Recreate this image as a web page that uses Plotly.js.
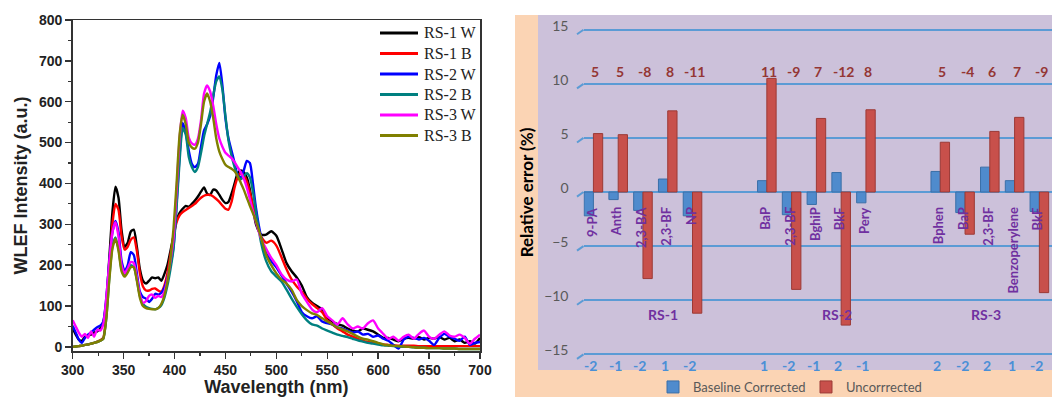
<!DOCTYPE html>
<html>
<head>
<meta charset="utf-8">
<script src="https://cdn.plot.ly/plotly-3.0.1.min.js"></script>
<style>html,body{margin:0;padding:0;background:#fff;overflow:hidden;}#chart{width:1052px;height:397px;}</style>
</head>
<body>
<div id="chart"></div>
<script>
// ---------- Left panel: WLEF spectra ----------
const wavelength = [300,303,306,309,312,315,318,321,324,327,330,333,336,339,342,345,348,351,354,357,360,363,366,369,372,375,378,381,384,387,390,393,396,399,402,405,408,411,414,417,420,423,426,429,432,435,438,441,444,447,450,453,456,459,462,465,468,471,474,477,480,
  485,490,495,500,505,510,515,520,525,530,535,540,545,550,555,560,565,570,575,580,585,590,595,600,605,610,615,620,625,630,635,640,645,650,655,660,665,670,675,680,685,690,695,700];

const rs1W = [45,30,18,15,25,28,30,35,38,45,60,110,220,330,392,365,285,245,255,282,287,245,190,162,155,162,170,168,170,162,178,200,235,272,310,328,338,345,343,350,358,368,380,390,375,372,385,383,372,360,352,355,375,400,425,432,428,415,385,340,300,
  275,275,283,272,240,205,185,170,150,122,108,100,92,72,62,56,52,45,40,38,45,42,38,30,22,22,18,14,20,22,20,24,18,22,20,24,18,22,14,18,10,14,8,22];
const rs1B = [0,1,2,3,5,6,8,10,13,16,22,80,190,300,350,335,270,238,245,262,268,235,180,148,138,138,142,143,138,135,150,180,225,270,305,322,330,335,340,345,350,358,365,370,372,372,368,362,355,346,338,336,355,390,415,425,420,405,378,345,315,
  270,255,260,248,220,190,165,148,135,118,105,95,85,65,55,45,38,30,25,20,15,12,10,8,6,5,4,3,3,3,3,2,2,2,2,2,2,2,2,2,2,2,2,2];
const rs2W = [52,35,18,10,22,30,35,42,48,52,62,120,210,280,308,280,210,185,200,232,225,180,135,122,118,110,118,130,128,132,145,168,200,245,350,470,548,525,480,448,440,448,490,530,545,565,610,665,695,640,560,510,480,450,420,415,432,455,450,400,340,
  270,230,210,195,175,155,135,112,85,75,70,75,62,58,55,48,45,40,35,38,30,32,25,28,20,15,5,-4,18,25,22,18,22,15,5,22,32,25,20,15,25,5,10,12];
const rs2B = [0,1,2,3,5,6,8,10,12,15,20,70,170,245,268,240,190,178,188,200,196,165,125,105,98,95,93,92,95,102,120,150,190,240,340,455,535,520,465,440,428,440,475,515,545,575,615,650,662,630,565,505,468,440,418,410,418,425,415,380,330,
  255,210,185,172,160,140,118,98,80,65,55,52,45,40,35,30,27,24,20,16,13,10,8,6,4,3,2,1,0,0,-1,-2,-2,-3,-3,-3,-4,-4,-4,-5,-5,-5,-5,-5];
const rs3W = [65,50,35,25,32,22,38,25,42,40,55,120,210,280,305,270,200,180,192,208,205,170,128,108,112,125,128,120,125,122,135,165,210,265,380,510,578,560,512,498,495,510,555,620,640,625,590,545,510,490,475,468,462,452,440,428,412,390,362,332,305,
  265,240,218,200,178,165,160,165,130,110,92,85,95,75,65,55,70,55,45,50,45,58,65,45,32,20,25,15,25,30,20,32,40,25,20,30,38,28,25,30,22,8,20,30];
const rs3B = [0,1,2,3,5,6,8,10,12,15,20,70,165,240,265,235,185,172,182,195,195,162,120,100,95,93,92,92,95,105,125,160,215,290,400,520,568,545,500,488,485,500,545,600,620,600,560,510,478,460,446,440,436,430,418,402,385,365,345,327,308,
  268,225,200,180,165,155,140,115,100,90,82,78,70,62,55,48,43,38,32,25,20,18,14,10,6,4,3,2,1,0,-1,-2,-2,-3,-3,-3,-4,-4,-4,-5,-5,-5,-5,-5];

const spectraNames = ['RS-1 W','RS-1 B','RS-2 W','RS-2 B','RS-3 W','RS-3 B'];
const spectraData = [rs1W, rs1B, rs2W, rs2B, rs3W, rs3B];
const spectraColors = ['#000000','#FF0000','#0000FF','#008080','#FF00FF','#808000'];

// ---------- Right panel: relative error ----------
const samples = ['RS-1','RS-2','RS-3'];
const compounds = ['9-PA','Anth','2,3-BA','2,3-BF','NP',
                   'BaP','2,3-BF','BghiP','BkF','Pery',
                   'Bphen','BaP','2,3-BF','Benzoperylene','BkF'];
const baselineCorrected = [-2.2,-0.7,-1.7,1.2,-2.2, 1.05,-2.1,-1.15,1.8,-1.0, 1.9,-1.9,2.3,1.05,-1.8];
const uncorrected = [5.4,5.3,-8.0,7.5,-11.2, 10.5,-9.0,6.8,-12.3,7.6, 4.6,-3.9,5.6,6.9,-9.3];
const baselineLabels = ['-2','-1','-2','1','-2', '1','-2','-1','2','-1', '2','-2','2','1','-2'];
const uncorrectedLabels = ['5','5','-8','8','-11', '11','-9','7','-12','8', '5','-4','6','7','-9'];
const errorTicks = [-15,-10,-5,0,5,10,15];

// slot position of each compound: 5 per sample, 2 empty slots between samples
const slots = compounds.map((c,i)=> Math.floor(i/5)*7 + (i%5));

const W = 1052, H = 397;
const px = v => v / W;
const py = v => 1 - v / H;

const traces = [];
spectraNames.forEach((n,i)=>{
  traces.push({
    type:'scatter', mode:'lines', name:n, x:wavelength, y:spectraData[i],
    line:{color:spectraColors[i], width:2.4, shape:'spline', smoothing:0.6},
    xaxis:'x', yaxis:'y', showlegend:false
  });
});
traces.push({
  type:'bar', name:'Baseline Corrrected', x:slots, y:baselineCorrected,
  marker:{color:'#4F8BCD', line:{color:'#3A6FA8', width:1}},
  xaxis:'x2', yaxis:'y2', legend:'legend2', showlegend:true
});
traces.push({
  type:'bar', name:'Uncorrrected', x:slots, y:uncorrected,
  marker:{color:'#C8504B', line:{color:'#9C3A36', width:1}},
  xaxis:'x2', yaxis:'y2', legend:'legend2', showlegend:true
});

const annotations = [];
const shapes = [
  {type:'rect', xref:'paper', yref:'paper', x0:px(515), x1:1, y0:0, y1:py(15), fillcolor:'#FBD4B4', line:{width:0}, layer:'below'},
  {type:'rect', xref:'paper', yref:'paper', x0:px(538), x1:1, y0:py(370), y1:py(15), fillcolor:'#CCC1DA', line:{width:0}, layer:'below'}
];

// legend of the spectra panel (Origin style: long line samples, tight rows)
spectraNames.forEach((n,i)=>{
  const yc = py(33 + i*20.5);
  shapes.push({type:'line', xref:'paper', yref:'paper', x0:px(380), x1:px(418), y0:yc, y1:yc,
    line:{color:spectraColors[i], width:2.8}});
  annotations.push({xref:'paper', yref:'paper', x:px(422), y:yc, text:n, xanchor:'left', yanchor:'middle',
    showarrow:false, font:{family:'"Liberation Serif", "Times New Roman", serif', size:16, color:'#222'}});
});

const calibri = 'Lato, "Open Sans", sans-serif';
compounds.forEach((c,i)=>{
  annotations.push({xref:'x2', yref:'y2', x:slots[i]-0.06, y:-1.2, text:c, textangle:-90,
    xanchor:'center', yanchor:'top', showarrow:false,
    font:{family:calibri, size:13, color:'#7030A0', weight:'bold'}});
  annotations.push({xref:'x2', yref:'y2', x:slots[i]+0.08, y:11.18, text:uncorrectedLabels[i],
    xanchor:'center', yanchor:'middle', showarrow:false,
    font:{family:calibri, size:14, color:'#943634', weight:'bold'}});
  annotations.push({xref:'x2', yref:'y2', x:slots[i]-0.12, y:-15.99, text:baselineLabels[i],
    xanchor:'center', yanchor:'middle', showarrow:false,
    font:{family:calibri, size:14, color:'#4A8FD6', weight:'bold'}});
});
const sampleLabelX = [2.8, 9.85, 15.85];
samples.forEach((s,i)=>{
  annotations.push({xref:'x2', yref:'y2', x:sampleLabelX[i], y:-11.28, text:s,
    xanchor:'center', yanchor:'middle', showarrow:false,
    font:{family:calibri, size:14, color:'#7030A0', weight:'bold'}});
});
errorTicks.forEach(v=>{
  shapes.push({type:'line', xref:'paper', yref:'y2', x0:px(577), x1:px(583.5), y0:v-0.42, y1:v,
    line:{color:'#5B9BD5', width:2}, layer:'below'});
});

const arialB = {family:'"Liberation Sans", Arial, sans-serif', size:14, color:'#222', weight:'bold'};

const layout = {
  width:W, height:H,
  margin:{l:0,r:0,t:0,b:0,pad:0,autoexpand:false},
  paper_bgcolor:'#ffffff', plot_bgcolor:'rgba(0,0,0,0)',
  barmode:'group', bargap:0.25, bargroupgap:0,
  showlegend:true,
  xaxis:{domain:[px(72.7), px(480)], range:[300,700], anchor:'y',
    tickvals:[300,350,400,450,500,550,600,650,700], ticks:'outside', ticklen:6, tickwidth:1.5, tickcolor:'#333',
    minor:{dtick:25, tick0:300, ticks:'outside', ticklen:3, tickwidth:1.2, tickcolor:'#333'},
    showline:true, mirror:true, linecolor:'#333', linewidth:1.5, showgrid:false, zeroline:false,
    tickfont:arialB, automargin:false,
    title:{text:'Wavelength (nm)', font:{family:'"Liberation Sans", Arial, sans-serif', size:18, color:'#222', weight:'bold'}}},
  yaxis:{domain:[py(351), py(20)], range:[-10,800], anchor:'x',
    tickvals:[0,100,200,300,400,500,600,700,800], ticks:'outside', ticklen:6, tickwidth:1.5, tickcolor:'#333',
    minor:{dtick:50, tick0:0, ticks:'outside', ticklen:3, tickwidth:1.2, tickcolor:'#333'},
    showline:true, mirror:true, linecolor:'#333', linewidth:1.5, showgrid:false, zeroline:false,
    tickfont:arialB, automargin:false,
    title:{text:'WLEF Intensity (a.u.)', font:{family:'"Liberation Sans", Arial, sans-serif', size:18, color:'#222', weight:'bold'}, standoff:6}},
  xaxis2:{domain:[px(583.5), 1], range:[-0.40, 18.51], anchor:'y2',
    showticklabels:false, ticks:'', showgrid:false, zeroline:false, showline:false, automargin:false},
  yaxis2:{domain:[py(370), py(15)], range:[-16.45, 16.36], anchor:'x2',
    tickvals:errorTicks, ticks:'', showgrid:true, gridcolor:'#5B9BD5', gridwidth:2,
    zeroline:false, showline:false, ticklabelshift:-4, ticklabelstandoff:14,
    tickfont:{family:calibri, size:14, color:'#595959'}, automargin:false,
    title:{text:'Relative error (%)', font:{family:calibri, size:17, color:'#000', weight:'bold'}, standoff:6}},
  legend2:{orientation:'h', x:px(653), y:py(387), xanchor:'left', yanchor:'middle', bgcolor:'rgba(0,0,0,0)',
    entrywidth:108, entrywidthmode:'pixels',
    font:{family:calibri, size:13, color:'#595959'}},
  shapes:shapes,
  annotations:annotations
};

Plotly.newPlot('chart', traces, layout, {displayModeBar:false, staticPlot:true});
</script>
</body>
</html>
